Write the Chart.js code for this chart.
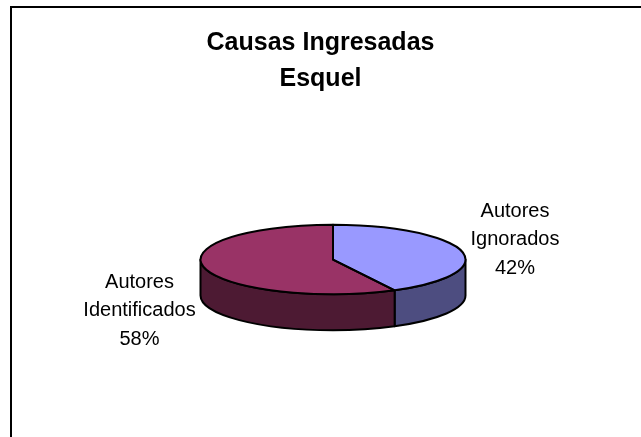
<!DOCTYPE html>
<html>
<head>
<meta charset="utf-8">
<script src="https://cdn.jsdelivr.net/npm/chart.js@4"></script>
<style>
    html, body { margin: 0; padding: 0; background: #fff; overflow: hidden; }
    #ChartCausas { display: block; }
</style>
</head>
<body>
<canvas id="ChartCausas" width="641" height="437"></canvas>
<script>
const Titulo = ['Causas Ingresadas', 'Esquel'];
const Categorias = ['Autores Ignorados', 'Autores Identificados'];
const Valores = [42.3, 57.7];
const Porcentajes = ['42%', '58%'];
const ColoresCara = ['#9999FF', '#993366'];
const ColoresLado = ['#4D4D80', '#4D1A33'];

// pie is drawn flat by Chart.js, this plugin tilts it and adds the side wall
const Pie3D = {
    id: 'pie3d',
    center: (chart, opts) => {
        const arc = chart.getDatasetMeta(0).data[0];
        return { x: arc.x + opts.shiftX, y: arc.y + opts.shiftY, r: arc.outerRadius, ax: arc.x, ay: arc.y };
    },
    sides: (chart, opts) => {
        const ctx = chart.ctx;
        const c = Pie3D.center(chart, opts);
        const ry = c.r * opts.squash;
        chart.getDatasetMeta(0).data.forEach((arc, i) => {
            const from = Math.max(arc.startAngle, 0);
            const to = Math.min(arc.endAngle, Math.PI);
            if (to <= from) return;
            ctx.beginPath();
            ctx.ellipse(c.x, c.y, c.r, ry, 0, from, to);
            ctx.ellipse(c.x, c.y + opts.depth, c.r, ry, 0, to, from, true);
            ctx.closePath();
            ctx.fillStyle = ColoresLado[i];
            ctx.fill();
            ctx.lineWidth = opts.line;
            ctx.strokeStyle = '#000';
            ctx.lineJoin = 'round';
            ctx.stroke();
        });
    },
    beforeDatasetsDraw(chart, args, opts) {
        Pie3D.sides(chart, opts);
        const ctx = chart.ctx;
        const c = Pie3D.center(chart, opts);
        ctx.save();
        ctx.translate(c.x, c.y);
        ctx.scale(1, opts.squash);
        ctx.translate(-c.ax, -c.ay);
    },
    afterDatasetsDraw(chart, args, opts) {
        const ctx = chart.ctx;
        ctx.restore();
        const c = Pie3D.center(chart, opts);
        const ry = c.r * opts.squash;
        chart.getDatasetMeta(0).data.forEach((arc) => {
            ctx.beginPath();
            ctx.moveTo(c.x, c.y);
            ctx.ellipse(c.x, c.y, c.r, ry, 0, arc.startAngle, arc.endAngle);
            ctx.closePath();
            ctx.lineWidth = opts.line;
            ctx.strokeStyle = '#000';
            ctx.lineJoin = 'round';
            ctx.stroke();
        });
    }
};

const Etiquetas = {
    id: 'etiquetas',
    afterDraw(chart, args, opts) {
        const ctx = chart.ctx;
        ctx.save();
        ctx.font = opts.font;
        ctx.fillStyle = '#000';
        ctx.textAlign = 'center';
        ctx.textBaseline = 'middle';
        Categorias.forEach((cat, i) => {
            const lineas = cat.split(' ').concat(Porcentajes[i]);
            lineas.forEach((txt, n) => {
                ctx.fillText(txt, opts.at[i].x, opts.at[i].y + n * opts.leading);
            });
        });
        ctx.restore();
    }
};

// only left and top edges of the frame fall inside the picture
const Marco = {
    id: 'marco',
    beforeDraw(chart, args, opts) {
        const ctx = chart.ctx;
        ctx.save();
        ctx.strokeStyle = '#000';
        ctx.lineWidth = 2;
        ctx.strokeRect(opts.left, opts.top, chart.width + 10, chart.height + 10);
        ctx.restore();
    }
};

const ChartCausas = new Chart(document.getElementById('ChartCausas'), {
    type: 'pie',
    data: {
        labels: Categorias,
        datasets: [{
            data: Valores,
            backgroundColor: ColoresCara,
            borderWidth: 0,
            clip: false
        }]
    },
    plugins: [Marco, Pie3D, Etiquetas],
    options: {
        responsive: false,
        animation: false,
        radius: 132.5,
        layout: { padding: 0 },
        plugins: {
            legend: { display: false },
            tooltip: { enabled: false },
            title: {
                display: true,
                text: Titulo,
                color: '#000',
                font: { family: '"Liberation Sans", Arial, sans-serif', size: 25, weight: 'bold', lineHeight: 1.46 },
                padding: { top: 24.5, bottom: 0 }
            },
            pie3d: { squash: 0.262, depth: 36, line: 2, shiftX: 12.5, shiftY: -7.7 },
            etiquetas: {
                font: '20px "Liberation Sans", Arial, sans-serif',
                leading: 28.7,
                at: [{ x: 515, y: 211 }, { x: 139.5, y: 282 }]
            },
            marco: { left: 11, top: 7 }
        }
    }
});
</script>
</body>
</html>
